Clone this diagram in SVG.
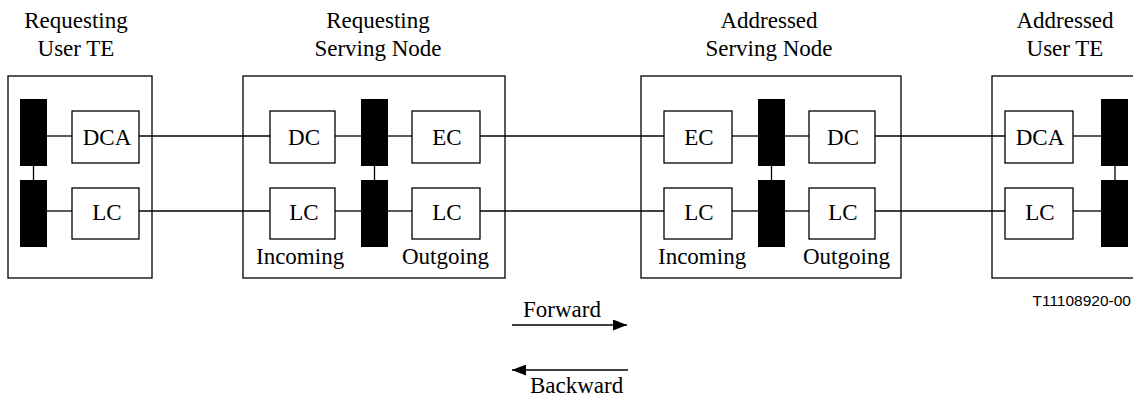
<svg xmlns="http://www.w3.org/2000/svg" width="1133" height="399" viewBox="0 0 1133 399">
<defs>
<style>
.frame{fill:none;stroke:#000;stroke-width:1.3}
.box{fill:#fff;stroke:#000;stroke-width:1.3}
.bar{fill:#000;stroke:none}
.ln{fill:none;stroke:#000;stroke-width:1.3}
.t{font-family:"Liberation Serif","Times New Roman",serif;font-size:23px;fill:#000}
.m{text-anchor:middle}
.id{font-family:"Liberation Sans",Arial,sans-serif;font-size:15.5px;fill:#000;text-anchor:end}
</style>
<marker id="ah" viewBox="0 0 14 11" refX="14" refY="5.5" markerWidth="14" markerHeight="11" markerUnits="userSpaceOnUse" orient="auto">
<path d="M0,0 L14,5.5 L0,11 Z" fill="#000"/>
</marker>
</defs>
<rect width="1133" height="399" fill="#fff"/>

<g id="connectors">
<line class="ln" x1="47" y1="136" x2="72" y2="136"/>
<line class="ln" x1="47" y1="211" x2="72" y2="211"/>
<line class="ln" x1="33.5" y1="166" x2="33.5" y2="180"/>
<line class="ln" x1="139" y1="136" x2="270" y2="136"/>
<line class="ln" x1="139" y1="211" x2="270" y2="211"/>
<line class="ln" x1="335" y1="136" x2="361" y2="136"/>
<line class="ln" x1="335" y1="211" x2="361" y2="211"/>
<line class="ln" x1="388" y1="136" x2="412" y2="136"/>
<line class="ln" x1="388" y1="211" x2="412" y2="211"/>
<line class="ln" x1="374.5" y1="166" x2="374.5" y2="180"/>
<line class="ln" x1="480" y1="136" x2="664" y2="136"/>
<line class="ln" x1="480" y1="211" x2="664" y2="211"/>
<line class="ln" x1="732" y1="136" x2="758" y2="136"/>
<line class="ln" x1="732" y1="211" x2="758" y2="211"/>
<line class="ln" x1="785" y1="136" x2="809" y2="136"/>
<line class="ln" x1="785" y1="211" x2="809" y2="211"/>
<line class="ln" x1="771.5" y1="166" x2="771.5" y2="180"/>
<line class="ln" x1="875" y1="136" x2="1005" y2="136"/>
<line class="ln" x1="875" y1="211" x2="1005" y2="211"/>
<line class="ln" x1="1073" y1="136" x2="1101" y2="136"/>
<line class="ln" x1="1073" y1="211" x2="1101" y2="211"/>
<line class="ln" x1="1115" y1="166" x2="1115" y2="180"/>
<line class="ln" x1="512" y1="325" x2="627" y2="325" marker-end="url(#ah)"/>
<line class="ln" x1="628" y1="370" x2="512" y2="370" marker-end="url(#ah)"/>
</g>

<g id="req-user-te">
<rect class="frame" x="8" y="76" width="144" height="202"/>
<text class="t m" x="76" y="28">Requesting</text>
<text class="t m" x="76" y="56">User TE</text>
<rect class="bar" x="20" y="99" width="27" height="67"/>
<rect class="bar" x="20" y="180" width="27" height="67"/>
<rect class="box" x="72" y="111" width="67" height="52"/>
<text class="t m" x="107" y="145">DCA</text>
<rect class="box" x="72" y="188" width="67" height="51"/>
<text class="t m" x="107" y="220">LC</text>
</g>

<g id="req-serving-node">
<rect class="frame" x="243" y="76" width="262" height="202"/>
<text class="t m" x="378" y="28">Requesting</text>
<text class="t m" x="378" y="56">Serving Node</text>
<rect class="box" x="270" y="111" width="65" height="52"/>
<text class="t m" x="304" y="145">DC</text>
<rect class="box" x="270" y="188" width="65" height="51"/>
<text class="t m" x="304" y="220">LC</text>
<rect class="bar" x="361" y="99" width="27" height="67"/>
<rect class="bar" x="361" y="180" width="27" height="67"/>
<rect class="box" x="412" y="111" width="68" height="52"/>
<text class="t m" x="447" y="145">EC</text>
<rect class="box" x="412" y="188" width="68" height="51"/>
<text class="t m" x="447" y="220">LC</text>
<text class="t" x="256" y="264">Incoming</text>
<text class="t" x="402" y="264">Outgoing</text>
</g>

<g id="addr-serving-node">
<rect class="frame" x="641" y="76" width="260" height="202"/>
<text class="t m" x="769" y="28">Addressed</text>
<text class="t m" x="769" y="56">Serving Node</text>
<rect class="box" x="664" y="111" width="68" height="52"/>
<text class="t m" x="699" y="145">EC</text>
<rect class="box" x="664" y="188" width="68" height="51"/>
<text class="t m" x="699" y="220">LC</text>
<rect class="bar" x="758" y="99" width="27" height="67"/>
<rect class="bar" x="758" y="180" width="27" height="67"/>
<rect class="box" x="809" y="111" width="66" height="52"/>
<text class="t m" x="843" y="145">DC</text>
<rect class="box" x="809" y="188" width="66" height="51"/>
<text class="t m" x="843" y="220">LC</text>
<text class="t" x="658" y="264">Incoming</text>
<text class="t" x="803" y="264">Outgoing</text>
</g>

<g id="addr-user-te">
<rect class="frame" x="992" y="76" width="160" height="202"/>
<text class="t m" x="1065" y="28">Addressed</text>
<text class="t m" x="1065" y="56">User TE</text>
<rect class="box" x="1005" y="111" width="68" height="52"/>
<text class="t m" x="1040" y="145">DCA</text>
<rect class="box" x="1005" y="188" width="68" height="51"/>
<text class="t m" x="1040" y="220">LC</text>
<rect class="bar" x="1101" y="99" width="27" height="67"/>
<rect class="bar" x="1101" y="180" width="27" height="67"/>
</g>

<g id="legend">
<text class="t" x="523" y="317">Forward</text>
<text class="t" x="530" y="393">Backward</text>
<text class="id" x="1131" y="306">T11108920-00</text>
</g>
</svg>
